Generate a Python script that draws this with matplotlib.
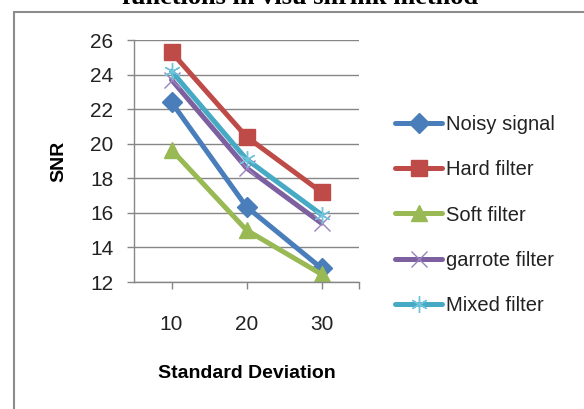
import matplotlib.pyplot as plt
from matplotlib.patches import Rectangle

## Datos
std_dev = ['10', '20', '30']
noisy = [22.4, 16.35, 12.8]
hard = [25.3, 20.4, 17.2]
soft = [19.65, 15.0, 12.45]
garrote = [23.7, 18.6, 15.4]
mixed = [24.2, 19.1, 15.9]
labels = ['Noisy signal', 'Hard filter', 'Soft filter', 'garrote filter', 'Mixed filter']

plt.rcParams['font.family'] = ['Liberation Sans', 'DejaVu Sans']

W, H = 584, 409
fig = plt.figure(figsize=(W / 100, H / 100), dpi=100)

## Marco del grafico (solo borde izquierdo y superior visibles)
fig.patches.append(Rectangle((13.5 / W, -0.1), 1.2, 1 - 12.5 / H + 0.1, transform=fig.transFigure,
                             fill=False, edgecolor='#8c8c8c', linewidth=1.5))

## Titulo cortado arriba
fig.text(300 / W, 1 - 3.5 / H, 'functions in visu shrink method', ha='center', va='baseline',
         family='Liberation Serif', fontweight='bold', fontsize=19)

ax = fig.add_axes([134 / W, 1 - 282 / H, 225 / W, 242 / H])
x = [1, 2, 3]
grey = '#868686'

styles = [
    (noisy, '#4a7ebb', dict(marker='D', markersize=10.5)),
    (hard, '#be4b48', dict(marker='s', markersize=11)),
    (soft, '#98b954', dict(marker='^', markersize=12)),
    (garrote, '#7d60a0', dict(marker='x', markersize=11, markeredgewidth=1, markeredgecolor='#9a84bd')),
    (mixed, '#46aac5', dict(marker=(6, 2, 0), markersize=12, markeredgewidth=1, markeredgecolor='#6fc3da')),
]
handles = []
for vals, col, kw in styles:
    h, = ax.plot(x, vals, color=col, linewidth=3.6, solid_capstyle='round', markerfacecolor=col,
                 markeredgecolor=kw.pop('markeredgecolor', col), **kw)
    handles.append(h)

ax.set_xlim(0.5, 3.5)
ax.set_ylim(12, 26)
ax.set_yticks(range(12, 27, 2))
ax.set_xticks([1, 2, 3, 3.5])
ax.set_xticklabels(std_dev + [''])
ax.yaxis.grid(True, color=grey, linewidth=1)
ax.set_axisbelow(True)
for s in ['top', 'right']:
    ax.spines[s].set_visible(False)
for s in ['left', 'bottom']:
    ax.spines[s].set_color(grey)
    ax.spines[s].set_linewidth(1)
ax.tick_params(axis='both', colors=grey, labelcolor='#222222', labelsize=15, length=5, width=1)
ax.tick_params(axis='y', pad=10)
ax.tick_params(axis='x', pad=18.4)

ax.set_xlabel('Standard Deviation', fontsize=14, fontweight='bold', labelpad=22.5)
ax.set_ylabel('SNR', fontsize=14, fontweight='bold', labelpad=16)

fig.legend(handles, labels, loc='center left', bbox_to_anchor=(395 / W, 1 - 215 / H),
           frameon=False, fontsize=14.5, handlelength=2.35, handletextpad=0.2,
           labelspacing=1.3, borderpad=0, borderaxespad=0, labelcolor='#222222')

fig.savefig('out.png', dpi=100)
